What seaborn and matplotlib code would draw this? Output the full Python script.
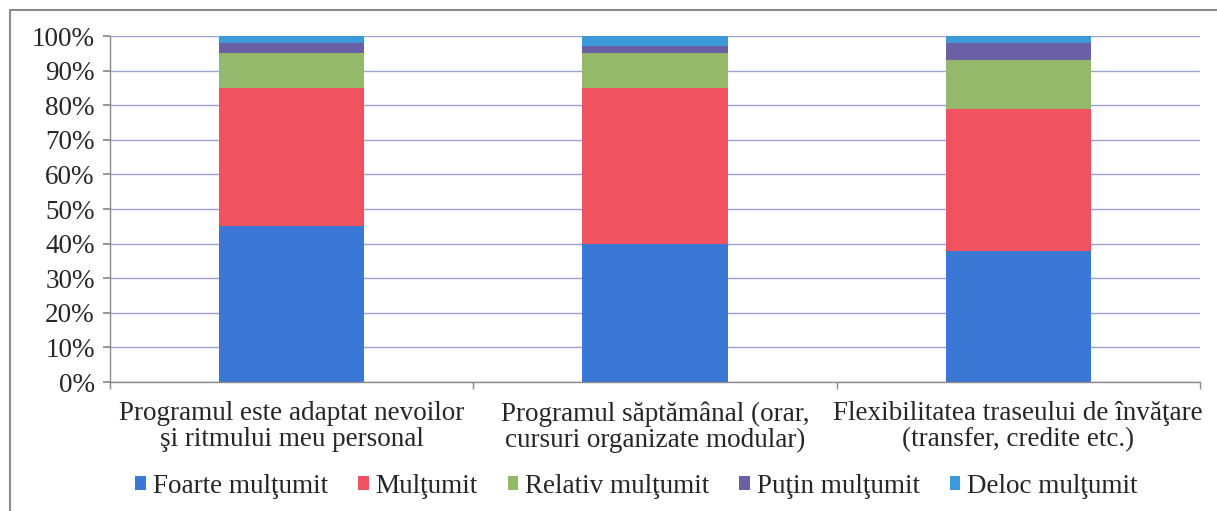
import numpy as np
import pandas as pd
import seaborn as sns
import matplotlib.pyplot as plt
from matplotlib.patches import Patch
from matplotlib.lines import Line2D

# categories and percentages
categories = ["Programul este adaptat nevoilor\nşi ritmului meu personal",
              "Programul săptămânal (orar,\ncursuri organizate modular)",
              "Flexibilitatea traseului de învăţare\n(transfer, credite etc.)"]
levels = ["Foarte mulţumit", "Mulţumit", "Relativ mulţumit", "Puţin mulţumit", "Deloc mulţumit"]
foarte = [45, 40, 38]
multumit = [40, 45, 41]
relativ = [10, 10, 14]
putin = [3, 2, 5]
deloc = [2, 3, 2]
colors = ["#3b78d6", "#f0535f", "#94b96b", "#6b5fa6", "#3c9ad9"]

sns.set_theme(style="white")
plt.rcParams['font.family'] = ['Liberation Serif', 'DejaVu Serif']

df = pd.DataFrame({"cat": categories, levels[0]: foarte, levels[1]: multumit,
                   levels[2]: relativ, levels[3]: putin, levels[4]: deloc})
cum = df[levels].cumsum(axis=1)
cum["cat"] = df["cat"]

fig = plt.figure(figsize=(12.17, 5.11), dpi=100)
ax = fig.add_axes([0.0904, 0.2524, 0.8956, 0.6771])

# draw from the top segment down so each layer covers the one behind
for lvl, col in reversed(list(zip(levels, colors))):
    sns.barplot(x="cat", y=lvl, data=cum, color=col, width=0.4,
                saturation=1, linewidth=0, ax=ax, zorder=2)

ax.set_ylim(0, 100)
ax.set_xlim(-0.5, 2.5)
ax.set_yticks(np.arange(0, 101, 10))
ax.set_yticklabels([f"{v}%" for v in range(0, 101, 10)], fontsize=19.5)
ax.yaxis.grid(True, color="#9aa3cc", linewidth=1, zorder=0)
ax.set_axisbelow(True)
ax.set_xlabel("")
ax.set_ylabel("")
ax.tick_params(axis="x", length=0, labelsize=19.5, pad=14)
ax.set_xticks([-0.5, 0.5, 1.5, 2.5], minor=True)
ax.tick_params(axis="x", which="minor", length=5, color="#8a8a8a", bottom=True)
ax.tick_params(axis="y", length=5, color="#8a8a8a", left=True, pad=6)
for lab in ax.get_xticklabels():
    lab.set_linespacing(1.05)
for s in ["top", "right"]:
    ax.spines[s].set_visible(False)
for s in ["left", "bottom"]:
    ax.spines[s].set_color("#8a8a8a")
    ax.spines[s].set_linewidth(1)

handles = [Patch(facecolor=c, edgecolor="none") for c in colors]
fig.legend(handles, levels, loc="center", bbox_to_anchor=(0.523, 0.048), ncol=5,
           frameon=False, fontsize=19.5, handlelength=0.4, handleheight=0.4,
           handletextpad=0.25, columnspacing=1.1)

# outer chart frame (top and left edges visible in the crop)
fig.add_artist(Line2D([0.008, 1.0], [0.98, 0.98], color="#8c8c8c", linewidth=1.5))
fig.add_artist(Line2D([0.008, 0.008], [0.0, 0.98], color="#8c8c8c", linewidth=1.5))

fig.savefig("out.png", dpi=100)
